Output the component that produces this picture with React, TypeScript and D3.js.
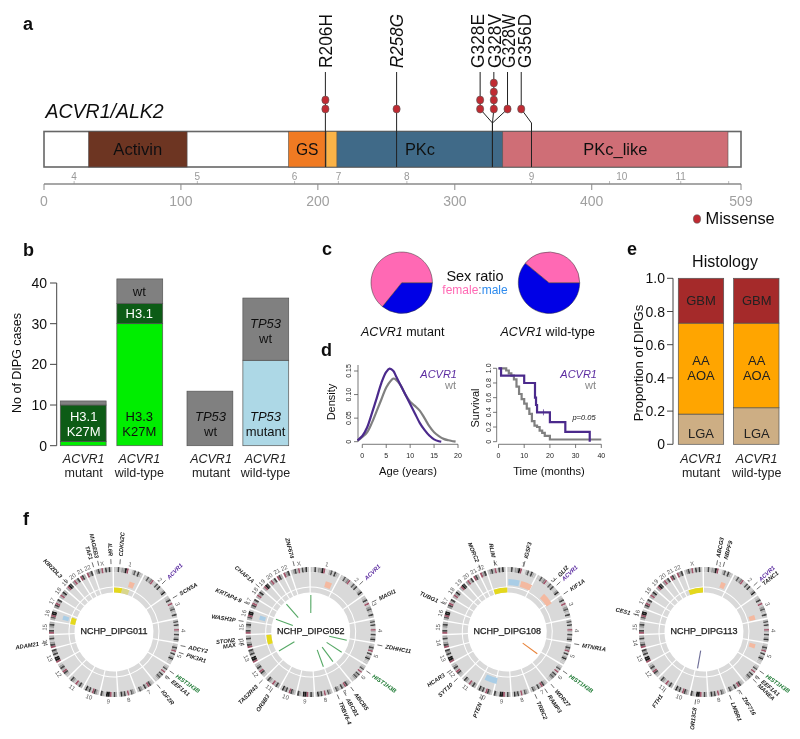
import React from "react";
import * as d3 from "d3";

const FONT = "'Liberation Sans', Arial, sans-serif";

// ---------- panel a ----------
const proteinLength = 509;
const domainNames = ["Activin", "GS", "", "PKc", "PKc_like"];
const domainWidths = [49, 22.5, 0, 30, 64];
const domainStart = [32.5, 178.5, 206, 214, 335];
const domainEnd = [104.5, 206, 214, 335, 499.5];
const domainColors = ["#6d3524", "#f07a24", "#fbb347", "#3f6b88", "#cf6e76"];
const exonLabels = ["4", "5", "6", "7", "8", "9", "10", "11"];
const exonPos = [22, 112, 183, 215, 265, 356, 422, 465];
const exonTicks = [22, 112, 183, 215, 265, 356, 413, 465, 500];
const mutNames = ["R206H", "R258G", "G328E", "G328V", "G328W", "G356D"];
const mutLabelPos = [205.5, 257.5, 316.6, 328.7, 339.4, 351];
const mutStemPos = [205.5, 257.5, 318.5, 328.5, 338.5, 348.5];
const mutSitePos = [205.5, 257.5, 327.5, 327.5, 327.5, 356];
const mutCounts = [2, 1, 2, 4, 1, 1];
const axisTicks = [0, 100, 200, 300, 400, 509];

// ---------- panel b ----------
const h3Bars = [
  { name: "mutant", parts: [1, 9, 1] },
  { name: "wild-type", parts: [30, 5, 6] },
];
const h3Colors = ["#00ee00", "#0a5c12", "#808080"];
const tp53Bars = [
  { name: "mutant", parts: [0, 13.4] },
  { name: "wild-type", parts: [21, 15.3] },
];
const tp53Colors = ["#add8e6", "#808080"];
const bTicks = [0, 10, 20, 30, 40];

// ---------- panel c ----------
const sexMutant = [0.358, 0.642];
const sexWild = [0.61, 0.39];
const sexColors = ["#0000e6", "#ff69b4"];

// ---------- panel d ----------
const ageGrid = [-1, 0, 1, 2, 3, 4, 5, 5.7, 6.5, 7, 8, 9, 10, 11, 12, 13, 14, 15, 16, 16.5];
const densMutant = [0.003, 0.012, 0.03, 0.06, 0.092, 0.125, 0.148, 0.155, 0.15, 0.14, 0.12, 0.1, 0.08, 0.06, 0.04, 0.025, 0.013, 0.005, 0.001, 0];
const ageGridWt = [-1, 0, 1, 2, 3, 4, 5, 6, 6.5, 7, 8, 9, 10, 11, 12, 13, 14, 15, 16, 17, 18, 19, 19.5];
const densWt = [0.002, 0.01, 0.02, 0.04, 0.065, 0.09, 0.115, 0.13, 0.134, 0.132, 0.12, 0.1, 0.085, 0.076, 0.066, 0.05, 0.033, 0.02, 0.012, 0.006, 0.003, 0.001, 0];
const survMutT = [0, 1, 10, 14.2, 14.6, 15, 20, 26, 35.5];
const survMutS = [1, 0.9, 0.8, 0.6, 0.5, 0.4, 0.267, 0.133, 0];
const survWtT = [0, 3, 4, 5, 6, 7, 8, 9, 10, 11, 12, 13, 14, 15, 16, 17, 18, 20, 40];
const survWtS = [1, 0.97, 0.93, 0.9, 0.85, 0.75, 0.65, 0.58, 0.52, 0.45, 0.38, 0.28, 0.22, 0.2, 0.15, 0.12, 0.08, 0.03, 0.03];

// ---------- panel e ----------
const histoNames = ["LGA", "AA", "GBM"];
const histoColors = ["#cdae84", "#ffa500", "#a52a2a"];
const histoMutant = [0.182, 0.548, 0.27];
const histoWild = [0.22, 0.51, 0.27];
const eTicks = [0, 0.2, 0.4, 0.6, 0.8, 1];

// ---------- panel f ----------
const chromNames = ["1","2","3","4","5","6","7","8","9","10","11","12","13","14","15","16","17","18","19","20","21","22","X"];
const chromSizes = [249,243,198,191,181,171,159,146,141,135,135,133,115,107,102,90,81,78,59,63,48,51,155];
const chromBands = [
  "1171339r00261721","11624r1162711381","1271r1362171","261711r2171382","1273r17138211","1261r1736311",
  "127r271361","1361r17381","271r99127","137r17381","272r1371","127r2731","r991737","r73172","r71372",
  "26r991","37r27","2r382","2r97","3r27","r72","r37","1372r17281",
];
const genes011: [string, number][] = [["CDKN2C",42],["IL6R",3010],["MAGEB3",2922],["TAF1",2884],["ACVR1",379],["SCN5A",505],["ADCY2",855],["PIK3R1",905],["HIST1H3B",1052],["EEF1A1",1095],["IGF2R",1184],["ADAM21",2198],["KIR2DL3",2661]];
const genes052: [string, number][] = [["ZNF674",2913],["ACVR1",386],["MAGI1",539],["ZDHHC11",850],["HIST1H3B",1052],["ABCB5",1212],["ABCB1",1271],["TRBV6-4",1322],["OR8B3",1802],["TAS2R43",1895],["MAX",2193],["STON2",2223],["WASH3P",2349],["KRTAP4-9",2476],["CHAF1A",2619]];
const genes108: [string, number][] = [["IGSF3",118],["RLIM",2943],["MORC2",2838],["TUBG1",2476],["GLI2",358],["ACVR1",392],["KIF1A",472],["MTNR1A",842],["HIST1H3B",1052],["WDR27",1179],["RAMP3",1234],["TRBC2",1314],["PTEN",1692],["SYT10",1911],["HCAR3",1987]];
const genes113: [string, number][] = [["ABCG3",90],["NBPF9",138],["ACVR1",396],["TANC1",429],["HIST1H3B",1052],["EEF1A1",1095],["MANEA",1128],["ZNF716",1251],["LMBR1",1330],["OR13C8",1575],["FTH1",1802],["CES1",2395]];
// [start Mb, end Mb, kind] along the genome
const cnv011: [number, number, string][] = [[145,195,"gain"],[2385,2425,"loss"],[0,90,"yellow"],[90,170,"pale"],[2358,2433,"yellow"]];
const cnv052: [number, number, string][] = [[140,200,"gain"],[2385,2425,"loss"],[2135,2240,"yellow"]];
const cnv108: [number, number, string][] = [[10,115,"loss"],[130,236,"gain"],[370,480,"gain"],[1615,1730,"loss"],[2880,3031,"yellow"]];
const cnv113: [number, number, string][] = [[160,205,"gain"],[600,645,"gain"],[870,910,"gain"],[2860,3020,"yellow"]];
const links052 = [2, 2686, 2442, 2012, 867, 1036, 1204, 1347];
const links108 = [1060];
const links113 = [1600];
const samples = [
  { name: "NCHP_DIPG011", cx: 114, cy: 632, genes: genes011, cnv: cnv011, links: [] as number[], link: "#55a865" },
  { name: "NCHP_DIPG052", cx: 310.7, cy: 632, genes: genes052, cnv: cnv052, links: links052, link: "#55a865" },
  { name: "NCHP_DIPG108", cx: 507.3, cy: 632, genes: genes108, cnv: cnv108, links: links108, link: "#e8833a" },
  { name: "NCHP_DIPG113", cx: 704, cy: 632, genes: genes113, cnv: cnv113, links: links113, link: "#6a6a95" },
];
const cnvColors: Record<string, string> = { gain: "#f4b9a0", loss: "#a9cde6", yellow: "#e4d81c", pale: "#d9d68c" };

const grey = d3.scaleLinear<string>().domain([0, 9]).range(["#dedede", "#1a1a1a"]);
const totalMb = d3.sum(chromSizes);
const genomeAngle = d3.scaleLinear().domain([0, totalMb]).range([0, 2 * Math.PI]);
const chromStarts = [0, ...d3.cumsum(chromSizes)];
const chromGap = (1.5 * Math.PI) / 180;
const chromSpan = d3.scaleLinear().domain([0, totalMb]).range([0, 2 * Math.PI - chromGap * chromSizes.length]);
const arc = d3.arc();

function Circos({ s }: { s: (typeof samples)[number] }) {
  const polar = (a: number, r: number): [number, number] => [r * Math.sin(a), -r * Math.cos(a)];
  const pt = (mb: number, r: number) => polar(genomeAngle(mb), r);
  const rOut = 65, rBand = 60, rT1 = 45.5, rT2In = 39.5, rT2Out = 44.5;
  return (
    <g transform={`translate(${s.cx},${s.cy})`} fontFamily={FONT}>
      {chromSizes.map((size, i) => {
        const a0 = chromSpan(chromStarts[i]) + chromGap * i;
        const a1 = a0 + chromSpan(size);
        const bands = chromBands[i].split("");
        const step = (a1 - a0) / bands.length;
        const mid = (a0 + a1) / 2;
        const [lx, ly] = polar(mid, 69.5);
        const deg = (mid * 180) / Math.PI;
        const rot = deg > 90 && deg < 270 ? deg - 180 : deg;
        return (
          <g key={i}>
            <path d={arc({ innerRadius: rT1, outerRadius: rBand, startAngle: a0, endAngle: a1 } as any)!} fill="#d9d9d9" />
            <path d={arc({ innerRadius: rT2In, outerRadius: rT2Out, startAngle: a0, endAngle: a1 } as any)!} fill="#d9d9d9" />
            {bands.map((b, j) => (
              <path key={j} d={arc({ innerRadius: rBand, outerRadius: rOut, startAngle: a0 + j * step, endAngle: a0 + (j + 1) * step } as any)!}
                fill={b === "r" ? "#a0566a" : grey(+b)} />
            ))}
            <text transform={`translate(${lx},${ly}) rotate(${rot})`} textAnchor="middle" dy="0.35em" fontSize={6} fill="#555">{chromNames[i]}</text>
          </g>
        );
      })}
      {s.cnv.map(([a, b, kind], i) => {
        const inner = kind === "yellow" || kind === "pale";
        return (
          <path key={i} d={arc({ innerRadius: inner ? rT2In : 47, outerRadius: inner ? rT2Out : 53, startAngle: genomeAngle(a), endAngle: genomeAngle(b) } as any)!} fill={cnvColors[kind]} />
        );
      })}
      {s.links.map((mb, i) => {
        const [x1, y1] = pt(mb, 19);
        const [x2, y2] = pt(mb, 37);
        return <line key={i} x1={x1} y1={y1} x2={x2} y2={y2} stroke={s.link} strokeWidth={1.1} />;
      })}
      {s.genes.map(([g, mb], i) => {
        const deg = (genomeAngle(mb) * 180) / Math.PI;
        const [x1, y1] = pt(mb, 68);
        const [x2, y2] = pt(mb, 73);
        const [tx, ty] = pt(mb, 76);
        const right = deg < 180;
        const color = g === "ACVR1" ? "#5b2ca0" : g === "HIST1H3B" ? "#1e7a34" : "#1a1a1a";
        return (
          <g key={i}>
            <line x1={x1} y1={y1} x2={x2} y2={y2} stroke="#333" strokeWidth={0.7} />
            <text transform={`translate(${tx},${ty}) rotate(${right ? deg - 90 : deg + 90})`} textAnchor={right ? "start" : "end"} dy="0.35em"
              fontSize={5.8} fontWeight="bold" fontStyle="italic" fill={color}>{g}</text>
          </g>
        );
      })}
      <text textAnchor="middle" y={-1} dy="0.35em" fontSize={9} fill="#1a1a1a" stroke="#1a1a1a" strokeWidth={0.25}>{s.name}</text>
    </g>
  );
}

export default function App() {
  // panel a
  const xA = d3.scaleLinear().domain([0, proteinLength]).range([44, 741]);
  const barTop = 131.5, barBot = 167;
  const dotYs = [109, 100, 92, 83];
  // panel b
  const yB = d3.scaleLinear().domain([0, 40]).range([445.7, 283]);
  const barB = d3.scaleBand<string>().domain(["0", "1"]).range([60.3, 162.7]).paddingInner(0.19);
  const barT = d3.scaleBand<string>().domain(["0", "1"]).range([187, 288.7]).paddingInner(0.18);
  // panel c
  const pie = d3.pie<number>().sort(null).startAngle(Math.PI / 2).endAngle(Math.PI * 2.5);
  const pieArc = d3.arc<d3.PieArcDatum<number>>().innerRadius(0).outerRadius(30.7);
  // panel d
  const xD = d3.scaleLinear().domain([0, 20]).range([362.3, 458]);
  const yD = d3.scaleLinear().domain([0, 0.15]).range([441.7, 371]);
  const xS = d3.scaleLinear().domain([0, 40]).range([498.5, 601.3]);
  const yS = d3.scaleLinear().domain([0, 1]).range([441.7, 368.3]);
  const survPath = (t: number[], s: number[]) =>
    d3.line<number>().x((d) => xS(d)).y((_, i) => yS(s[i])).curve(d3.curveStepAfter)(t)!;
  // panel e
  const yE = d3.scaleLinear().domain([0, 1]).range([444.3, 278.3]);
  const barE = d3.scaleBand<string>().domain(["0", "1"]).range([678.3, 779]).paddingInner(0.18);

  const letter = (t: string, x: number, y: number) => (
    <text x={x} y={y} fontSize={18} fontWeight="bold" fill="#111">{t}</text>
  );
  const greyAxis = "#8a8a8a";

  return (
    <svg width={800} height={739} style={{ position: "absolute", left: 0, top: 0, background: "#fff" }} fontFamily={FONT} fill="#111">
      <defs>
        <filter id="soft" x="0" y="0" width="100%" height="100%"><feGaussianBlur stdDeviation="0.3" /></filter>
      </defs>
      <g filter="url(#soft)">
      {letter("a", 23, 30)}
      {letter("b", 23, 256)}
      {letter("c", 322, 255)}
      {letter("d", 321, 356)}
      {letter("e", 627, 255)}
      {letter("f", 23, 525)}

      {/* panel a */}
      <text x={45.5} y={118} fontSize={19.5} fontStyle="italic">ACVR1/ALK2</text>
      <rect x={xA(0)} y={barTop} width={xA(509) - xA(0)} height={barBot - barTop} fill="#fff" stroke="#666" strokeWidth={1.6} />
      {domainNames.map((n, i) => (
        <g key={i}>
          <rect x={xA(domainStart[i])} y={barTop} width={xA(domainEnd[i]) - xA(domainStart[i])} height={barBot - barTop} fill={domainColors[i]} stroke="#555" strokeWidth={0.6} />
          {n && (
            <text x={(xA(domainStart[i]) + xA(domainEnd[i])) / 2} y={155} textAnchor="middle" fontSize={17} textLength={domainWidths[i]} lengthAdjust="spacingAndGlyphs" fill="#111">{n}</text>
          )}
        </g>
      ))}
      {exonLabels.map((e, i) => (
        <text key={e} x={xA(exonPos[i])} y={180} textAnchor="middle" fontSize={10} fill="#999">{e}</text>
      ))}
      {exonTicks.map((t, i) => (
        <line key={i} x1={xA(t)} x2={xA(t)} y1={181} y2={184} stroke="#aaa" strokeWidth={0.8} />
      ))}
      <line x1={xA(0)} x2={xA(509)} y1={184} y2={184} stroke={greyAxis} strokeWidth={1.4} />
      {axisTicks.map((t) => (
        <g key={t}>
          <line x1={xA(t)} x2={xA(t)} y1={184} y2={190} stroke={greyAxis} strokeWidth={1} />
          <text x={xA(t)} y={206} textAnchor="middle" fontSize={14} fill="#a0a0a0">{t}</text>
        </g>
      ))}
      {mutNames.map((m, i) => {
        const xStem = xA(mutStemPos[i]);
        const xSite = xA(mutSitePos[i]);
        return (
          <g key={m}>
            <path d={`M${xStem},72 L${xStem},109 L${xSite},123 L${xSite},${barBot}`} fill="none" stroke="#222" strokeWidth={1} />
            {d3.range(mutCounts[i]).map((k) => (
              <ellipse key={k} cx={xStem} cy={dotYs[k]} rx={3.6} ry={4} fill="#c02c32" stroke="#555" strokeWidth={0.6} />
            ))}
            <text transform={`translate(${xA(mutLabelPos[i]) + 6.4},68) rotate(-90)`} fontSize={18} textLength={54} lengthAdjust="spacingAndGlyphs" fontStyle={m === "R258G" ? "italic" : "normal"} fill="#111">{m}</text>
          </g>
        );
      })}
      <ellipse cx={697} cy={219} rx={3.6} ry={4.2} fill="#c02c32" stroke="#555" strokeWidth={0.6} />
      <text x={705.5} y={223.5} fontSize={16.4}>Missense</text>

      {/* panel b */}
      <line x1={56.7} x2={56.7} y1={yB(40)} y2={yB(0)} stroke="#444" strokeWidth={1} />
      {bTicks.map((t) => (
        <g key={t}>
          <line x1={50} x2={56.7} y1={yB(t)} y2={yB(t)} stroke="#444" strokeWidth={1} />
          <text x={47} y={yB(t) + 5} textAnchor="end" fontSize={14}>{t}</text>
        </g>
      ))}
      <text transform="translate(21,363) rotate(-90)" textAnchor="middle" fontSize={12.5}>No of DIPG cases</text>
      {h3Bars.map((b, i) => {
        const ends = [...d3.cumsum(b.parts)];
        return b.parts.map((p, j) => (
          <rect key={`${i}-${j}`} x={barB(String(i))} width={barB.bandwidth()} y={yB(ends[j])} height={yB(0) - yB(p)} fill={h3Colors[j]} stroke="#555" strokeWidth={0.7} />
        ));
      })}
      {tp53Bars.map((b, i) => {
        const ends = [...d3.cumsum(b.parts)];
        return b.parts.map((p, j) => (
          <rect key={`${i}-${j}`} x={barT(String(i))} width={barT.bandwidth()} y={yB(ends[j])} height={yB(0) - yB(p)} fill={tp53Colors[j]} stroke="#555" strokeWidth={0.7} />
        ));
      })}
      <g fontSize={13} textAnchor="middle">
        <text x={83.7} y={421} fill="#fff">H3.1</text>
        <text x={83.7} y={436} fill="#fff">K27M</text>
        <text x={139.3} y={296} fill="#111">wt</text>
        <text x={139.3} y={318} fill="#fff">H3.1</text>
        <text x={139.3} y={421}>H3.3</text>
        <text x={139.3} y={436}>K27M</text>
        <text x={210.5} y={421} fontStyle="italic">TP53</text>
        <text x={210.5} y={436}>wt</text>
        <text x={265.5} y={328} fontStyle="italic">TP53</text>
        <text x={265.5} y={343}>wt</text>
        <text x={265.5} y={421} fontStyle="italic">TP53</text>
        <text x={265.5} y={436}>mutant</text>
      </g>
      {[83.7, 139.3, 211, 265.5].map((x, i) => (
        <g key={i} fontSize={12.5} textAnchor="middle" fill="#222">
          <text x={x} y={463}>
            <tspan fontStyle="italic">ACVR1</tspan>
          </text>
          <text x={x} y={476.5}>{i % 2 === 0 ? "mutant" : "wild-type"}</text>
        </g>
      ))}

      {/* panel c */}
      {[{ cx: 401.7, v: sexMutant }, { cx: 549, v: sexWild }].map((p, i) => (
        <g key={i} transform={`translate(${p.cx},282.7)`}>
          {pie(p.v).map((s, j) => (
            <path key={j} d={pieArc(s)!} fill={sexColors[j]} stroke="#333" strokeWidth={0.5} />
          ))}
        </g>
      ))}
      <text x={475} y={281} textAnchor="middle" fontSize={14.5}>Sex ratio</text>
      <text x={475} y={294} textAnchor="middle" fontSize={12}>
        <tspan fill="#ff69b4">female</tspan><tspan fill="#777">:</tspan><tspan fill="#2e8bee">male</tspan>
      </text>
      <text x={402.7} y={336} textAnchor="middle" fontSize={12.5}><tspan fontStyle="italic">ACVR1</tspan> mutant</text>
      <text x={547.7} y={336} textAnchor="middle" fontSize={12.5}><tspan fontStyle="italic">ACVR1</tspan> wild-type</text>

      {/* panel d */}
      <g stroke="#555" strokeWidth={0.8}>
        <line x1={358} x2={358} y1={365} y2={yD(0)} />
        {[0, 0.05, 0.1, 0.15].map((t) => <line key={t} x1={354} x2={358} y1={yD(t)} y2={yD(t)} />)}
        <line x1={xD(0)} x2={xD(20)} y1={444.3} y2={444.3} />
        {[0, 5, 10, 15, 20].map((t) => <line key={t} x1={xD(t)} x2={xD(t)} y1={444.3} y2={448} />)}
        <line x1={496.7} x2={496.7} y1={yS(1)} y2={yS(0)} />
        {[0, 0.2, 0.4, 0.6, 0.8, 1].map((t) => <line key={t} x1={493} x2={496.7} y1={yS(t)} y2={yS(t)} />)}
        <line x1={xS(0)} x2={xS(40)} y1={444.3} y2={444.3} />
        {[0, 10, 20, 30, 40].map((t) => <line key={t} x1={xS(t)} x2={xS(t)} y1={444.3} y2={448} />)}
      </g>
      <g fontSize={7} fill="#222" textAnchor="middle">
        {["0", "0.05", "0.10", "0.15"].map((t, i) => (
          <text key={t} transform={`translate(351,${yD(i * 0.05)}) rotate(-90)`}>{t}</text>
        ))}
        {[0, 5, 10, 15, 20].map((t) => <text key={t} x={xD(t)} y={458}>{t}</text>)}
        {[0, 0.2, 0.4, 0.6, 0.8, 1].map((t) => (
          <text key={t} transform={`translate(491,${yS(t)}) rotate(-90)`}>{t === 0 ? "0" : t.toFixed(1)}</text>
        ))}
        {[0, 10, 20, 30, 40].map((t) => <text key={t} x={xS(t)} y={458}>{t}</text>)}
      </g>
      <path d={d3.line<number>().x((_, i) => xD(ageGridWt[i])).y((d) => yD(d)).curve(d3.curveCatmullRom)(densWt)!} fill="none" stroke="#808080" strokeWidth={2.2} />
      <path d={d3.line<number>().x((_, i) => xD(ageGrid[i])).y((d) => yD(d)).curve(d3.curveCatmullRom)(densMutant)!} fill="none" stroke="#4b2a8c" strokeWidth={2.2} />
      <path d={survPath(survWtT, survWtS)} fill="none" stroke="#808080" strokeWidth={2.2} />
      <path d={survPath(survMutT, survMutS)} fill="none" stroke="#4b2a8c" strokeWidth={2.2} />
      <line x1={xS(17.5)} x2={xS(17.5)} y1={yS(0.4) - 3} y2={yS(0.4) + 3} stroke="#4b2a8c" strokeWidth={0.7} />
      <text transform="translate(335,402) rotate(-90)" textAnchor="middle" fontSize={11}>Density</text>
      <text transform="translate(479,408) rotate(-90)" textAnchor="middle" fontSize={11}>Survival</text>
      <text x={408} y={475} textAnchor="middle" fontSize={11.2}>Age (years)</text>
      <text x={549} y={475} textAnchor="middle" fontSize={11.2}>Time (months)</text>
      <text x={457} y={378} textAnchor="end" fontSize={11} fontStyle="italic" fill="#5b2ca0">ACVR1</text>
      <text x={456} y={389} textAnchor="end" fontSize={11} fill="#888">wt</text>
      <text x={597} y={378} textAnchor="end" fontSize={11} fontStyle="italic" fill="#5b2ca0">ACVR1</text>
      <text x={596} y={389} textAnchor="end" fontSize={11} fill="#888">wt</text>
      <text x={584} y={420} textAnchor="middle" fontSize={7.5} fontStyle="italic">p=0.05</text>

      {/* panel e */}
      <text x={725} y={267} textAnchor="middle" fontSize={16}>Histology</text>
      <line x1={673} x2={673} y1={yE(1)} y2={yE(0)} stroke="#444" strokeWidth={1} />
      {eTicks.map((t) => (
        <g key={t}>
          <line x1={667} x2={673} y1={yE(t)} y2={yE(t)} stroke="#444" strokeWidth={1} />
          <text x={665} y={yE(t) + 5} textAnchor="end" fontSize={14}>{t === 0 ? "0" : t.toFixed(1)}</text>
        </g>
      ))}
      <text transform="translate(643,363) rotate(-90)" textAnchor="middle" fontSize={13}>Proportion of DIPGs</text>
      {[histoMutant, histoWild].map((v, i) => {
        const ends = [...d3.cumsum(v)];
        return v.map((p, j) => (
          <rect key={`${i}-${j}`} x={barE(String(i))} width={barE.bandwidth()} y={yE(ends[j])} height={yE(0) - yE(p)} fill={histoColors[j]} stroke="#555" strokeWidth={0.7} />
        ));
      })}
      {[701, 756.7].map((x, i) => (
        <g key={i} fontSize={13} textAnchor="middle" fill="#222">
          <text x={x} y={305}>{histoNames[2]}</text>
          <text x={x} y={365}>{histoNames[1]}</text>
          <text x={x} y={380}>AOA</text>
          <text x={x} y={438}>{histoNames[0]}</text>
          <text x={x} y={463} fontSize={12.5} fontStyle="italic">ACVR1</text>
          <text x={x} y={476.5} fontSize={12.5}>{i === 0 ? "mutant" : "wild-type"}</text>
        </g>
      ))}

      {/* panel f */}
      {samples.map((s) => <Circos key={s.name} s={s} />)}
      </g>
    </svg>
  );
}
